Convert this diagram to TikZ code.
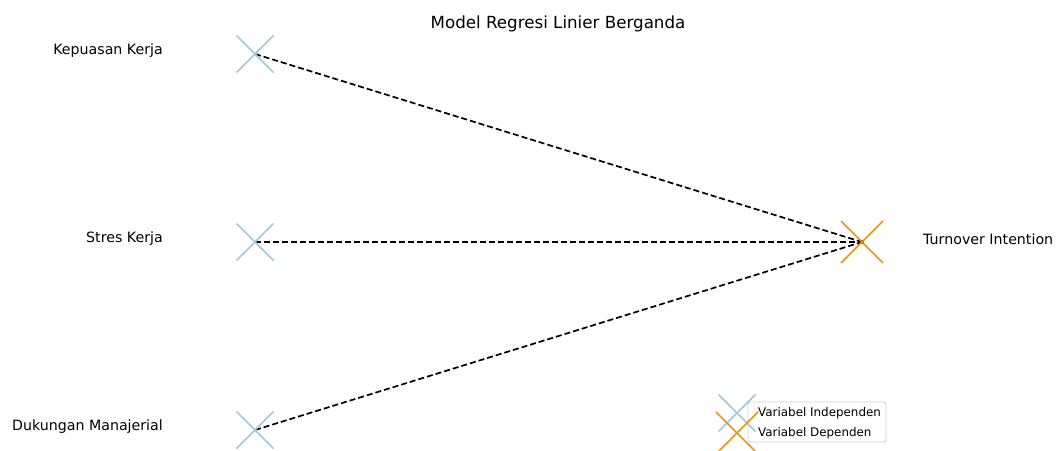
\documentclass[tikz,border=0pt]{standalone}
\usepackage{fontspec}
\setmainfont{DejaVu Sans}
\definecolor{indep}{RGB}{160,200,215}
\definecolor{dep}{RGB}{230,150,20}
\definecolor{legborder}{RGB}{210,210,210}
\tikzset{
  lbl/.style={inner sep=0pt, font=\fontsize{14.2}{16}\selectfont},
  ttl/.style={inner sep=0pt, font=\fontsize{16.7}{19}\selectfont},
  leglbl/.style={inner sep=0pt, font=\fontsize{11.9}{13}\selectfont, anchor=west},
  conn/.style={black, line width=1.7pt, dash pattern=on 6pt off 3pt},
  xmark/.style={line width=1.5pt},
}
\newcommand{\xmk}[3]{% center, half-size, colour
  \draw[xmark,#3] ($(#1)+(-#2,-#2)$) -- ($(#1)+(#2,#2)$);
  \draw[xmark,#3] ($(#1)+(-#2,#2)$) -- ($(#1)+(#2,-#2)$);}
\usetikzlibrary{calc}
\begin{document}
\begin{tikzpicture}[x=1pt,y=-1pt]
\useasboundingbox (0,0) rectangle (1057,450);
\node[ttl] (title) at (558,24) {Model Regresi Linier Berganda};
\coordinate (kk) at (255,54);
\coordinate (sk) at (255,242);
\coordinate (dm) at (255,430);
\coordinate (ti) at (862,242);
\node[lbl,anchor=east] (lkk) at (163,51) {Kepuasan Kerja};
\node[lbl,anchor=east] (lsk) at (163,239) {Stres Kerja};
\node[lbl,anchor=east] (ldm) at (163,427) {Dukungan Manajerial};
\node[lbl,anchor=west] (lti) at (923,239) {Turnover Intention};
\draw[conn] (kk) -- (ti);
\draw[conn] (sk) -- (ti);
\draw[conn] (dm) -- (ti);
\fill[black] (ti) circle (2);
\xmk{kk}{18.5}{indep}
\xmk{sk}{18.5}{indep}
\xmk{dm}{18.5}{indep}
\xmk{ti}{21}{dep}
% legend
\draw[legborder, fill=white, fill opacity=0.8, rounded corners=2.5pt, line width=0.9pt] (748,402) rectangle (886,442);
\coordinate (lg1) at (737,413);
\coordinate (lg2) at (737,433);
\xmk{lg1}{18.5}{indep}
\xmk{lg2}{21}{dep}
\node[leglbl] (li) at (758,413) {Variabel Independen};
\node[leglbl] (ld) at (758,433) {Variabel Dependen};
\end{tikzpicture}
\end{document}
